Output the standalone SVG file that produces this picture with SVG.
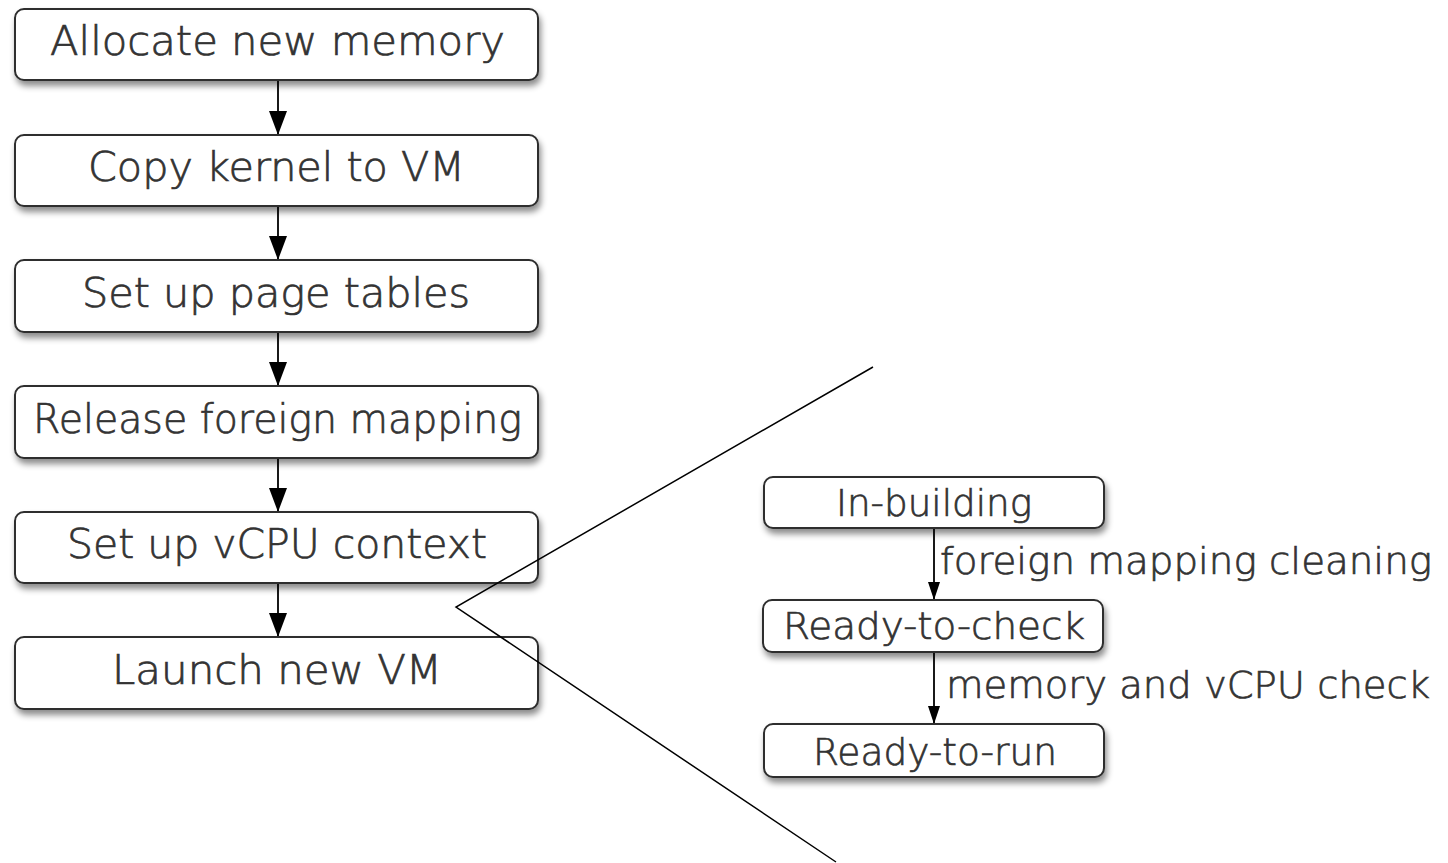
<svg xmlns="http://www.w3.org/2000/svg" width="1448" height="863" viewBox="0 0 1448 863">
<style>
  .box { fill: #ffffff; stroke: #2e2e2e; stroke-width: 2; filter: url(#shadow); }
  .lt { font-family: "DejaVu Sans", "Liberation Sans", sans-serif; font-weight: 200; font-size: 40px; fill: #333333; stroke: #333333; stroke-width: 0.7; }
  .rt { font-family: "DejaVu Sans", "Liberation Sans", sans-serif; font-weight: 200; font-size: 38px; fill: #333333; stroke: #333333; stroke-width: 0.7; }
  .conn { stroke: #000000; stroke-width: 1.8; fill: none; }
  .zoom { stroke: #000000; stroke-width: 1.5; fill: none; }
</style>
<defs>
  <filter id="shadow" x="-10%" y="-30%" width="120%" height="170%">
    <feDropShadow dx="2" dy="5" stdDeviation="3" flood-color="#000000" flood-opacity="0.45"/>
  </filter>
</defs>
<rect x="0" y="0" width="1448" height="863" fill="#ffffff"/>

<g id="connectors">
  <line class="conn" x1="278" y1="81" x2="278" y2="135"/>
  <line class="conn" x1="278" y1="207" x2="278" y2="260"/>
  <line class="conn" x1="278" y1="333" x2="278" y2="386"/>
  <line class="conn" x1="278" y1="459" x2="278" y2="512"/>
  <line class="conn" x1="278" y1="584" x2="278" y2="637"/>
  <line class="conn" x1="934" y1="529" x2="934" y2="600"/>
  <line class="conn" x1="934" y1="653" x2="934" y2="724"/>
  <g id="arrowheads">
    <path d="M269,111 L287,111 L278,135 Z" fill="#000"/>
    <path d="M269,236 L287,236 L278,260 Z" fill="#000"/>
    <path d="M269,362 L287,362 L278,386 Z" fill="#000"/>
    <path d="M269,488 L287,488 L278,512 Z" fill="#000"/>
    <path d="M269,613 L287,613 L278,637 Z" fill="#000"/>
    <path d="M928,582 L940,582 L934,600 Z" fill="#000"/>
    <path d="M928,706 L940,706 L934,724 Z" fill="#000"/>
  </g>
</g>

<g id="n-allocate">
  <rect class="box" x="15" y="9" width="523" height="71" rx="9"/>
  <text class="lt" x="50" y="55" textLength="455" lengthAdjust="spacingAndGlyphs">Allocate new memory</text>
</g>
<g id="n-copy">
  <rect class="box" x="15" y="135" width="523" height="71" rx="9"/>
  <text class="lt" x="88" y="181" textLength="377" lengthAdjust="spacingAndGlyphs">Copy kernel to VM</text>
</g>
<g id="n-pagetables">
  <rect class="box" x="15" y="260" width="523" height="72" rx="9"/>
  <text class="lt" x="82" y="307" textLength="388" lengthAdjust="spacingAndGlyphs">Set up page tables</text>
</g>
<g id="n-release">
  <rect class="box" x="15" y="386" width="523" height="72" rx="9"/>
  <text class="lt" x="33" y="433" textLength="489" lengthAdjust="spacingAndGlyphs">Release foreign mapping</text>
</g>
<g id="n-vcpu">
  <rect class="box" x="15" y="512" width="523" height="71" rx="9"/>
  <text class="lt" x="67" y="558" textLength="420" lengthAdjust="spacingAndGlyphs">Set up vCPU context</text>
</g>
<g id="n-launch">
  <rect class="box" x="15" y="637" width="523" height="72" rx="9"/>
  <text class="lt" x="112" y="684" textLength="330" lengthAdjust="spacingAndGlyphs">Launch new VM</text>
</g>

<g id="n-inbuilding">
  <rect class="box" x="764" y="477" width="340" height="51" rx="9"/>
  <text class="rt" x="836" y="516" textLength="196" lengthAdjust="spacingAndGlyphs">In-building</text>
</g>
<g id="n-readycheck">
  <rect class="box" x="763" y="600" width="340" height="52" rx="9"/>
  <text class="rt" x="783" y="639" textLength="302" lengthAdjust="spacingAndGlyphs">Ready-to-check</text>
</g>
<g id="n-readyrun">
  <rect class="box" x="764" y="724" width="340" height="53" rx="9"/>
  <text class="rt" x="813" y="765" textLength="244" lengthAdjust="spacingAndGlyphs">Ready-to-run</text>
</g>

<g id="edge-labels">
  <text class="rt" x="940" y="574" textLength="492" lengthAdjust="spacingAndGlyphs">foreign mapping cleaning</text>
  <text class="rt" x="946" y="698" textLength="484" lengthAdjust="spacingAndGlyphs">memory and vCPU check</text>
</g>

<g id="zoom-lines">
  <polyline class="zoom" points="873,367 456,607 836,862"/>
</g>
</svg>
